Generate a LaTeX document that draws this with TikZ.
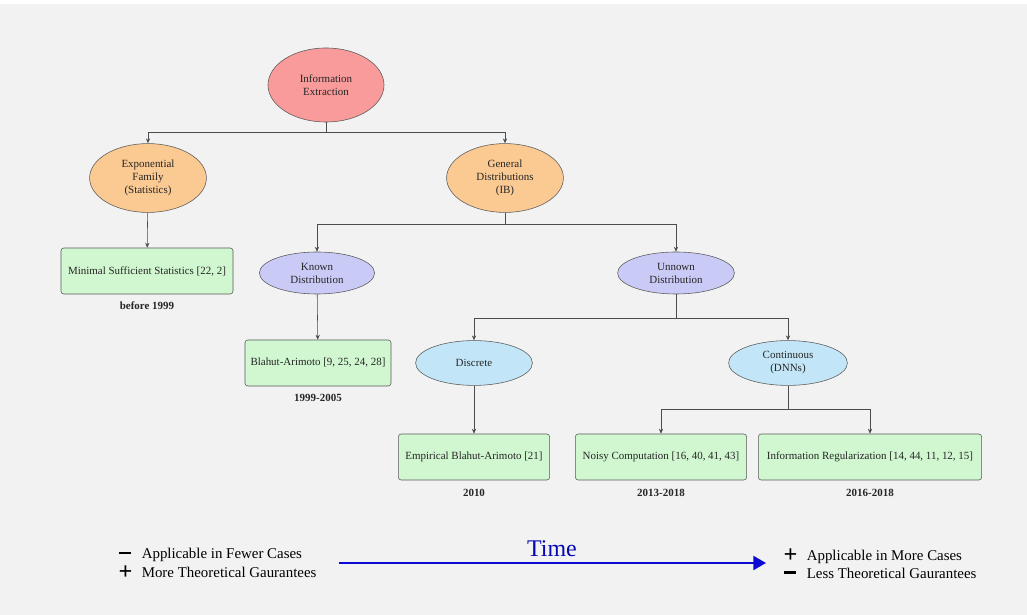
\documentclass[tikz,border=0pt]{standalone}
\usepackage{fontspec}
\setmainfont{Liberation Serif}
\usetikzlibrary{shapes.geometric,arrows.meta}

\definecolor{bggray}{HTML}{F2F2F2}
\definecolor{rootred}{HTML}{F99A9B}
\definecolor{famorange}{HTML}{FBC992}
\definecolor{distviolet}{HTML}{CACAF7}
\definecolor{kindblue}{HTML}{C2E6F7}
\definecolor{resgreen}{HTML}{D0F7D0}
\definecolor{timeblue}{HTML}{0A0AD2}

\newcommand{\plussign}{\makebox[1.55em][l]{\bfseries\LARGE\raisebox{-0.08em}{+}}}
\newcommand{\minussign}{\makebox[1.55em][l]{\rule[0.3em]{0.8em}{1.6pt}}}

\begin{document}
\begin{tikzpicture}[x=0.025cm, y=-0.025cm,
    every node/.style={font=\fontsize{7.8}{9.2}\selectfont, align=center, text=black!85},
    topic/.style={ellipse, draw=black!65, inner sep=0pt, minimum width=2.92cm},
    result/.style={rectangle, rounded corners=2pt, draw=black!65, fill=resgreen, minimum height=1.15cm, inner sep=2pt},
    period/.style={font=\fontsize{7.8}{9.2}\selectfont\bfseries},
    link/.style={draw=black!70, -{Stealth[length=3.5pt,width=3pt]}},
    note/.style={font=\fontsize{10.6}{11}\selectfont, anchor=west, text=black, inner sep=1pt}]
  % canvas
  \fill[bggray] (0,0) rectangle (1027,615);
  \fill[white] (0,0) rectangle (1027,4);
  \useasboundingbox (0,0) rectangle (1027,615);

  % tree
  \node[topic, fill=rootred, minimum width=2.9cm, minimum height=1.85cm] (info) at (326,85) {Information\\Extraction};
  \node[topic, fill=famorange, minimum height=1.72cm] (expo) at (148,178) {Exponential\\Family\\(Statistics)};
  \node[topic, fill=famorange, minimum height=1.72cm] (general) at (505,178) {General\\Distributions\\(IB)};
  \node[topic, fill=distviolet, minimum width=2.88cm, minimum height=1.05cm] (known) at (317,273) {Known\\Distribution};
  \node[topic, fill=distviolet, minimum width=2.92cm, minimum height=1.05cm] (unknown) at (676,273) {Unnown\\Distribution};
  \node[topic, fill=kindblue, minimum height=1.12cm] (discrete) at (474,363) {Discrete};
  \node[topic, fill=kindblue, minimum width=2.97cm, minimum height=1.12cm] (continuous) at (788,363) {Continuous\\(DNNs)};

  \node[result, minimum width=4.3cm] (minimal) at (147,271) {Minimal Sufficient Statistics [22, 2]};
  \node[result, minimum width=3.65cm] (blahut) at (318,363) {Blahut-Arimoto [9, 25, 24, 28]};
  \node[result, minimum width=3.78cm] (empirical) at (474,457) {Empirical Blahut-Arimoto [21]};
  \node[result, minimum width=4.28cm] (noisy) at (661,457) {Noisy Computation [16, 40, 41, 43]};
  \node[result, minimum width=5.58cm] (regular) at (870,457) {Information Regularization [14, 44, 11, 12, 15]};

  \node[period] (minimalyear) at (147,306) {before 1999};
  \node[period] (blahutyear) at (318,398) {1999-2005};
  \node[period] (empiricalyear) at (474,493) {2010};
  \node[period] (noisyyear) at (661,493) {2013-2018};
  \node[period] (regularyear) at (870,493) {2016-2018};

  \draw[link] (info.south) -- ++(0,10) -| (expo);
  \draw[link] (info.south) -- ++(0,10) -| (general);
  \draw[link] (expo) -- (minimal);
  \draw[link] (general.south) -- ++(0,12) -| (known);
  \draw[link] (general.south) -- ++(0,12) -| (unknown);
  \draw[link] (known) -- (blahut);
  \draw[link] (unknown.south) -- ++(0,24) -| (discrete);
  \draw[link] (unknown.south) -- ++(0,24) -| (continuous);
  \draw[link] (discrete) -- (empirical);
  \draw[link] (continuous.south) -- ++(0,24) -| (noisy);
  \draw[link] (continuous.south) -- ++(0,24) -| (regular);

  % time axis
  \coordinate (timestart) at (339,563);
  \coordinate (timeend) at (766,563);
  \draw[timeblue, line width=1.4pt, -{Triangle[length=9pt,width=10pt]}] (timestart) -- (timeend);
  \node[font=\fontsize{17}{20}\selectfont, text=timeblue!85!black] (time) at (552,549) {Time};

  \node[note] (fewer) at (117,555) {\minussign Applicable in Fewer Cases};
  \node[note] (moreguar) at (117,573) {\plussign More Theoretical Gaurantees};
  \node[note] (more) at (782,556) {\plussign Applicable in More Cases};
  \node[note] (lessguar) at (782,573) {\minussign Less Theoretical Gaurantees};
\end{tikzpicture}
\end{document}
